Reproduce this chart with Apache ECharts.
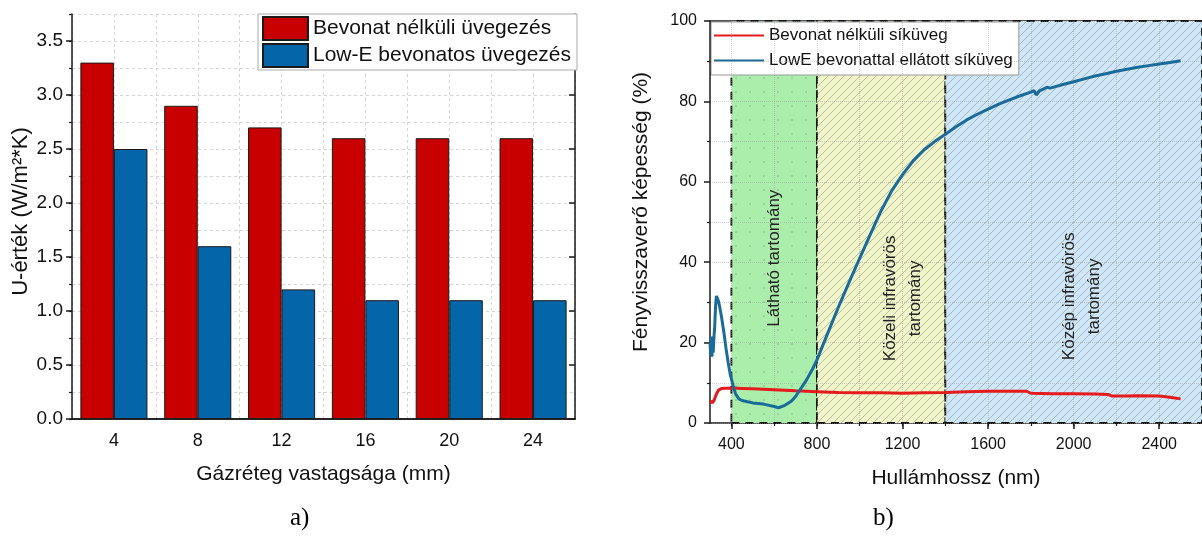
<!DOCTYPE html>
<html><head><meta charset="utf-8">
<script src="https://cdn.jsdelivr.net/npm/echarts@6/dist/echarts.min.js"></script>
<style>html,body{margin:0;padding:0;background:#fff}#c{width:1202px;height:546px}</style>
</head><body><div id="c"></div>
<script>
// ---------- Data: chart a) ----------
const gapThickness = ['4', '8', '12', '16', '20', '24'];
const uUncoated = [3.3, 2.9, 2.7, 2.6, 2.6, 2.6];
const uLowE = [2.5, 1.6, 1.2, 1.1, 1.1, 1.1];
const uTicks = [0, 0.5, 1.0, 1.5, 2.0, 2.5, 3.0, 3.5];
const barNames = ['Bevonat nélküli üvegezés', 'Low-E bevonatos üvegezés'];

// ---------- Data: chart b) ----------
const wlUncoated = [300,305,312,320,330,340,355,400,450,500,600,700,800,900,1000,1100,1200,1300,1400,1500,1600,1700,1780,1800,1900,2000,2100,2160,2180,2250,2300,2400,2450,2500];
const rUncoated  = [5.5,5.3,5.0,5.8,7.2,8.2,8.6,8.7,8.6,8.5,8.3,8.0,7.8,7.6,7.5,7.5,7.4,7.5,7.6,7.8,7.9,7.9,7.9,7.4,7.3,7.3,7.2,7.1,6.7,6.7,6.8,6.7,6.4,6.0];
const wlLowE = [300,303,306,309,312,315,318,322,326,330,334,338,345,355,365,375,385,395,400,410,420,435,450,475,500,550,600,620,650,680,700,720,750,780,800,850,900,950,1000,1050,1100,1150,1200,1250,1300,1350,1400,1450,1500,1550,1600,1650,1700,1750,1800,1815,1825,1840,1860,1875,1890,1950,2000,2050,2100,2150,2200,2250,2300,2350,2400,2450,2500];
const rLowE  = [20,17,21.5,16.5,20.5,17.5,21,24,29,31.6,31.4,30.6,29,26,22.5,18.5,15,12,11,8.8,7.2,6.0,5.6,5.3,5.0,4.7,4.1,3.8,4.4,5.4,6.6,8.2,10.6,13.5,15.7,22.3,28.8,35,41,47,52.8,57.8,61.8,65.2,67.9,70.0,71.8,73.7,75.4,76.8,78.1,79.3,80.4,81.4,82.3,82.7,81.6,82.6,83.1,83.5,83.3,84.2,84.9,85.6,86.3,86.9,87.5,88,88.5,88.9,89.3,89.7,90.1];
const lineNames = ['Bevonat nélküli síküveg', 'LowE bevonattal ellátott síküveg'];
const wavelengthTicks = [400, 800, 1200, 1600, 2000, 2400];
const wavelengthGrid = [400, 600, 800, 1000, 1200, 1400, 1600, 1800, 2000, 2200, 2400];
const regionBounds = [400, 800, 1400, 2600];
const regionLabels = ['Látható tartomány', 'Közeli infravörös\ntartomány', 'Közép infravörös\ntartomány'];
const regionLabelAt = [[600, 41], [1200, 31], [2040, 31.5]];

const FONT = "'Liberation Sans', Arial, sans-serif";
const RED_BAR = '#C80000', BLUE_BAR = '#0565A9';
const RED_LINE = '#E41A1C', BLUE_LINE = '#1A6B9A';
const AX = '#1a1a1a';

function hatch(bg, line, size) {
  const c = document.createElement('canvas'); c.width = c.height = size;
  const g = c.getContext('2d');
  g.fillStyle = bg; g.fillRect(0, 0, size, size);
  g.strokeStyle = line; g.lineWidth = 0.9;
  g.beginPath();
  g.moveTo(0, size); g.lineTo(size, 0);
  g.moveTo(-2, 2); g.lineTo(2, -2);
  g.moveTo(size - 2, size + 2); g.lineTo(size + 2, size - 2);
  g.stroke();
  return c;
}
function dots(bg, dot, size) {
  const c = document.createElement('canvas'); c.width = c.height = size;
  const g = c.getContext('2d');
  g.fillStyle = bg; g.fillRect(0, 0, size, size);
  g.fillStyle = dot; g.fillRect(Math.floor(size / 2), Math.floor(size / 2), 2, 2);
  return c;
}
const regionFills = [
  { image: dots('#abeeab', 'rgba(140,190,150,0.55)', 14), repeat: 'repeat' },
  { image: hatch('#eff5c9', 'rgba(130,135,110,0.55)', 8), repeat: 'repeat' },
  { image: hatch('#cfe6f6', 'rgba(110,125,145,0.5)', 8), repeat: 'repeat' }
];

const regionData = [];
for (let i = 0; i < regionBounds.length - 1; i++) {
  regionData.push([
    { xAxis: regionBounds[i], itemStyle: { color: regionFills[i] } },
    { xAxis: regionBounds[i + 1] }
  ]);
}

const chart = echarts.init(document.getElementById('c'), null, { renderer: 'canvas' });
const option = {
  animation: false,
  textStyle: { fontFamily: FONT },
  grid: [
    { left: 72, top: 14, width: 503, height: 405 },
    { left: 710, top: 21, width: 500, height: 402 }
  ],
  legend: [
    {
      data: barNames, orient: 'vertical', left: 258, top: 14,
      itemWidth: 45, itemHeight: 23, itemGap: 2, padding: [2, 6, 2, 4],
      backgroundColor: '#fff', borderColor: '#aaa', borderWidth: 1,
      textStyle: { fontSize: 21, color: '#111', fontFamily: FONT, lineHeight: 23 },
      icon: 'rect'
    },
    {
      data: lineNames, orient: 'vertical', left: 711, top: 22,
      itemWidth: 50, itemHeight: 14, itemGap: 8, padding: [5, 6, 6, 2],
      backgroundColor: '#fff', borderColor: '#999', borderWidth: 1,
      itemStyle: { opacity: 0 },
      textStyle: { fontSize: 17, color: '#111', fontFamily: FONT }
    }
  ],
  xAxis: [
    { // 0 main category axis a)
      type: 'category', gridIndex: 0, position: 'bottom', data: gapThickness, boundaryGap: true,
      axisLine: { lineStyle: { color: AX, width: 1.5 } },
      axisTick: { alignWithLabel: true, length: 6, lineStyle: { color: AX, width: 1.5 } },
      axisLabel: { fontSize: 18, color: '#111', margin: 13 },
      name: 'Gázréteg vastagsága (mm)', nameLocation: 'middle', nameGap: 45,
      nameTextStyle: { fontSize: 21, color: '#111' },
      splitLine: { show: false }
    },
    { // 1 minor ticks a)
      type: 'category', gridIndex: 0, position: 'bottom', data: gapThickness, boundaryGap: true,
      axisLine: { show: false },
      axisTick: { alignWithLabel: false, length: 3, lineStyle: { color: AX, width: 1.2 } },
      axisLabel: { show: false }, splitLine: { show: false }
    },
    { // 2 top frame a)
      type: 'category', gridIndex: 0, position: 'top', data: gapThickness, boundaryGap: true,
      axisLine: { lineStyle: { color: AX, width: 1.5 } },
      axisTick: { alignWithLabel: true, inside: true, length: 6, lineStyle: { color: AX, width: 1.5 } },
      axisLabel: { show: false }, splitLine: { show: false }
    },
    { // 3 vertical grid a)
      type: 'value', gridIndex: 0, min: 0, max: 12, interval: 1,
      axisLine: { show: false }, axisTick: { show: false }, axisLabel: { show: false },
      splitLine: { show: true, lineStyle: { color: '#d4d4d4', type: [3, 3], width: 1 } }
    },
    { // 4 main wavelength axis b)
      type: 'value', gridIndex: 1, position: 'bottom', min: 300, max: 2600,
      axisLine: { lineStyle: { color: AX, width: 1.5 } },
      axisTick: { customValues: wavelengthTicks, length: 6, lineStyle: { color: AX, width: 1.5 } },
      axisLabel: { customValues: wavelengthTicks, fontSize: 16, color: '#111', margin: 14, formatter: v => String(v) },
      name: 'Hullámhossz (nm)', nameLocation: 'middle', nameGap: 45,
      nameTextStyle: { fontSize: 21, color: '#111' },
      splitLine: { show: false }
    },
    { // 5 minor ticks + grid b)
      type: 'value', gridIndex: 1, position: 'bottom', min: 300, max: 2600, z: 5,
      axisLine: { show: false },
      axisTick: { customValues: wavelengthGrid, length: 3, lineStyle: { color: AX, width: 1.2 } },
      axisLabel: { show: false },
      splitLine: { show: true, lineStyle: { color: 'rgba(150,150,150,0.45)', type: 'dotted', width: 1 } }
    },
    { // 6 top frame b)
      type: 'value', gridIndex: 1, position: 'top', min: 300, max: 2600,
      axisLine: { lineStyle: { color: AX, width: 1.5 } },
      axisTick: { show: false }, axisLabel: { show: false }, splitLine: { show: false }
    }
  ],
  yAxis: [
    { // 0 main U axis
      type: 'value', gridIndex: 0, position: 'left', min: 0, max: 3.75,
      axisLine: { show: true, lineStyle: { color: AX, width: 1.5 } },
      axisTick: { show: true, customValues: uTicks, length: 6, lineStyle: { color: AX, width: 1.5 } },
      axisLabel: { customValues: uTicks, fontSize: 19, color: '#111', margin: 9, formatter: v => v.toFixed(1) },
      name: 'U-érték (W/m²*K)', nameLocation: 'middle', nameGap: 40,
      nameTextStyle: { fontSize: 22, color: '#111', padding: [0, 0, 0, 10] },
      splitLine: { show: false }
    },
    { // 1 minor ticks + grid a)
      type: 'value', gridIndex: 0, position: 'left', min: 0, max: 3.75, interval: 0.25,
      axisLine: { show: false },
      axisTick: { show: true, length: 3, lineStyle: { color: AX, width: 1.2 } },
      axisLabel: { show: false },
      splitLine: { show: true, lineStyle: { color: '#d4d4d4', type: [3, 3], width: 1 } }
    },
    { // 2 right frame a)
      type: 'value', gridIndex: 0, position: 'right', min: 0, max: 3.75,
      axisLine: { show: true, lineStyle: { color: AX, width: 1.5 } },
      axisTick: { show: true, inside: true, customValues: uTicks, length: 6, lineStyle: { color: AX, width: 1.5 } },
      axisLabel: { show: false }, splitLine: { show: false }
    },
    { // 3 reflectance axis b)
      type: 'value', gridIndex: 1, position: 'left', min: 0, max: 100, interval: 20, z: 5,
      axisLine: { show: true, lineStyle: { color: AX, width: 1.5 } },
      axisTick: { show: true, length: 6, lineStyle: { color: AX, width: 1.5 } },
      minorTick: { show: true, splitNumber: 2, length: 3, lineStyle: { color: AX, width: 1.2 } },
      axisLabel: { fontSize: 16, color: '#111', margin: 13 },
      name: 'Fényvisszaverő képesség (%)', nameLocation: 'middle', nameGap: 58,
      nameTextStyle: { fontSize: 21, color: '#111', padding: [0, 0, 0, 20] },
      splitLine: { show: true, lineStyle: { color: 'rgba(150,150,150,0.45)', type: 'dotted', width: 1 } },
      minorSplitLine: { show: true, lineStyle: { color: 'rgba(150,150,150,0.45)', type: 'dotted', width: 1 } }
    }
  ],
  series: [
    {
      name: barNames[0], type: 'bar', xAxisIndex: 0, yAxisIndex: 0, data: uUncoated,
      barGap: '0%', barCategoryGap: '20%',
      itemStyle: { color: RED_BAR, borderColor: '#1a1a1a', borderWidth: 1 }
    },
    {
      name: barNames[1], type: 'bar', xAxisIndex: 0, yAxisIndex: 0, data: uLowE,
      barGap: '0%', barCategoryGap: '20%',
      itemStyle: { color: BLUE_BAR, borderColor: '#1a1a1a', borderWidth: 1 }
    },
    {
      name: lineNames[0], type: 'line', xAxisIndex: 4, yAxisIndex: 3, z: 6,
      data: wlUncoated.map((w, i) => [w, rUncoated[i]]),
      symbol: 'none', showSymbol: false, color: RED_LINE, lineStyle: { color: RED_LINE, width: 3 }
    },
    {
      name: lineNames[1], type: 'line', xAxisIndex: 4, yAxisIndex: 3, z: 6,
      data: wlLowE.map((w, i) => [w, rLowE[i]]),
      symbol: 'none', showSymbol: false, color: BLUE_LINE, lineStyle: { color: BLUE_LINE, width: 3 }
    },
    {
      name: 'regions', type: 'line', xAxisIndex: 4, yAxisIndex: 3, z: 1, data: [],
      markArea: {
        silent: true,
        itemStyle: { opacity: 1, borderColor: '#111', borderWidth: 1.8, borderType: [8, 6] },
        data: regionData
      }
    }
  ]
};
chart.setOption(option);

const graphics = [];
regionLabels.forEach((t, i) => {
  const p = chart.convertToPixel({ seriesIndex: 2 }, regionLabelAt[i]);
  graphics.push({
    type: 'text', x: p[0], y: p[1], rotation: Math.PI / 2, z: 7,
    style: { text: t, font: "17px 'Liberation Sans', Arial, sans-serif", fill: '#222',
      textAlign: 'center', textVerticalAlign: 'middle', lineHeight: 25 }
  });
});
graphics.push({ type: 'text', left: 290, top: 506,
  style: { text: 'a)', font: "25px 'Liberation Serif', 'Times New Roman', serif", fill: '#000' } });
graphics.push({ type: 'text', left: 873, top: 506,
  style: { text: 'b)', font: "25px 'Liberation Serif', 'Times New Roman', serif", fill: '#000' } });
chart.setOption({ graphic: graphics });
</script></body></html>
